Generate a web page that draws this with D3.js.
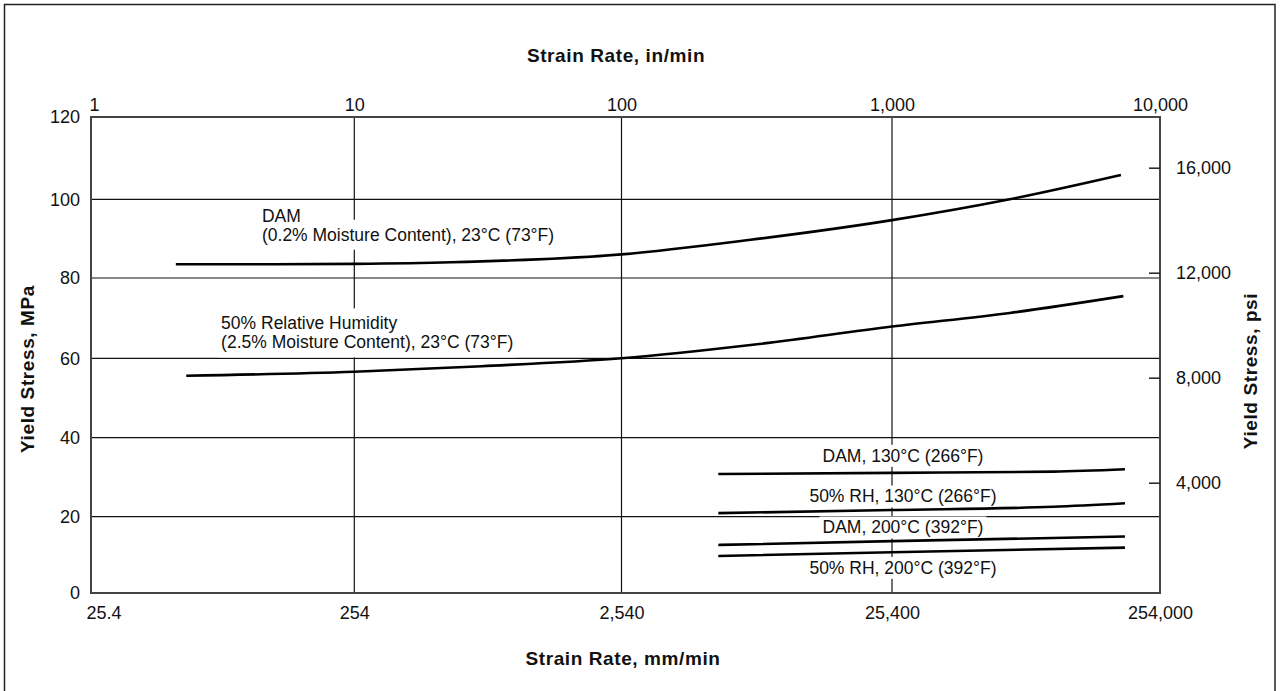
<!DOCTYPE html>
<html>
<head>
<meta charset="utf-8">
<script src="https://cdn.jsdelivr.net/npm/d3@7/dist/d3.min.js"></script>
<style>
  html, body { margin: 0; padding: 0; background: #fff; }
  svg { display: block; }
  text { font-family: "Liberation Sans", Arial, Helvetica, sans-serif; fill: #111; }
</style>
</head>
<body>
<svg id="chart" width="1282" height="691"></svg>
<script>
// ---------- data ----------
const inTicks = [1, 10, 100, 1000, 10000];
const inTickLabels = ["1", "10", "100", "1,000", "10,000"];
const mmTickLabels = ["25.4", "254", "2,540", "25,400", "254,000"];
const mpaTicks = [0, 20, 40, 60, 80, 100, 120];
const psiTicks = [4000, 8000, 12000, 16000];
const psiTickLabels = ["4,000", "8,000", "12,000", "16,000"];

// strain rate (in/min) and yield stress (MPa) per curve
const dam23X = [2.1, 5, 10, 23, 100, 300, 1000, 2750, 7150];
const dam23Y = [83.5, 83.5, 83.6, 84.0, 86.0, 89.7, 94.7, 100.0, 105.9];
const rh23X = [2.3, 10, 30, 100, 300, 1000, 2750, 7300];
const rh23Y = [55.6, 56.6, 58.0, 60.0, 63.3, 67.9, 71.3, 75.5];
const dam130X = [228, 1000, 4000, 7400];
const dam130Y = [30.8, 31.1, 31.4, 32.0];
const rh130X = [228, 1000, 4000, 7400];
const rh130Y = [20.9, 21.7, 22.5, 23.4];
const dam200X = [228, 1000, 7400];
const dam200Y = [12.6, 13.6, 14.8];
const rh200X = [228, 1000, 7400];
const rh200Y = [9.7, 10.7, 11.9];

const seriesNames = ["dam23", "rh23", "dam130", "rh130", "dam200", "rh200"];
const seriesX = [dam23X, rh23X, dam130X, rh130X, dam200X, rh200X];
const seriesY = [dam23Y, rh23Y, dam130Y, rh130Y, dam200Y, rh200Y];

// annotation texts, anchored in data units (in/min, MPa)
const annLines = [
  ["DAM", "(0.2% Moisture Content), 23°C (73°F)"],
  ["50% Relative Humidity", "(2.5% Moisture Content), 23°C (73°F)"],
  ["DAM, 130°C (266°F)"],
  ["50% RH, 130°C (266°F)"],
  ["DAM, 200°C (392°F)"],
  ["50% RH, 200°C (392°F)"]
];
const annX = [4.46, 3.12, 1099, 1099, 1099, 1099];
const annY = [94.3, 67.2, 33.9, 23.6, 15.6, 5.0];
const annAnchor = ["start", "start", "middle", "middle", "middle", "middle"];

// ---------- layout ----------
const svg = d3.select("#chart");
const L = 91, R = 1160, T = 117, B = 593;

const x = d3.scaleLog()
  .domain([1, 10, 100, 1000, 10000])
  .range([L, 354.3, 621.5, 892, R]);
const y = d3.scaleLinear()
  .domain([0, 20, 40, 60, 80, 100, 120])
  .range([B, 516.7, 437.7, 358.3, 278, 199.3, T]);
const yPsi = d3.scaleLinear().domain([0, 16000]).range([587.7, 167.7]);

// outer border
svg.append("rect")
  .attr("x", 4.5).attr("y", 4.5)
  .attr("width", 1270.5).attr("height", 720)
  .attr("fill", "none").attr("stroke", "#222").attr("stroke-width", 1.5);

// gridlines
const grid = svg.append("g").attr("stroke", "#111").attr("stroke-width", 1.2);
grid.selectAll("line.v").data(inTicks.slice(1, -1)).join("line")
  .attr("x1", d => x(d)).attr("x2", d => x(d))
  .attr("y1", T).attr("y2", B);
grid.selectAll("line.h").data(mpaTicks.slice(1, -1)).join("line")
  .attr("x1", L).attr("x2", R)
  .attr("y1", d => y(d)).attr("y2", d => y(d));

// annotations with white backgrounds (breaking gridlines)
const annG = svg.append("g");
annLines.forEach((lines, i) => {
  const g = annG.append("g");
  const bgG = g.append("g");
  const t = g.append("text")
    .attr("x", x(annX[i])).attr("y", y(annY[i]))
    .attr("text-anchor", annAnchor[i])
    .style("font-size", "17.5px");
  lines.forEach((ln, j) => {
    t.append("tspan")
      .attr("x", x(annX[i]))
      .attr("dy", j === 0 ? 0 : 19)
      .text(ln);
  });
  const padV = lines.length > 1 ? 5 : 1;
  t.selectAll("tspan").each(function() {
    const bb = this.getBBox();
    bgG.append("rect")
      .attr("x", bb.x - 3).attr("y", bb.y - padV)
      .attr("width", bb.width + 6).attr("height", bb.height + 2 * padV)
      .attr("fill", "#fff");
  });
});

// curves
const line = d3.line()
  .x(d => x(d[0])).y(d => y(d[1]))
  .curve(d3.curveMonotoneX);
svg.append("g").selectAll("path")
  .data(seriesNames.map((n, i) => seriesX[i].map((v, k) => [v, seriesY[i][k]])))
  .join("path")
  .attr("d", line)
  .attr("fill", "none")
  .attr("stroke", "#000")
  .attr("stroke-width", 2.6)
  .attr("stroke-linecap", "butt");

// frame
svg.append("rect")
  .attr("x", L).attr("y", T).attr("width", R - L).attr("height", B - T)
  .attr("fill", "none").attr("stroke", "#444").attr("stroke-width", 2);

// axes
function styleAxis(g) {
  g.select(".domain").remove();
  g.selectAll("text").style("font-size", "18px").attr("fill", "#111")
    .style("font-family", "'Liberation Sans', Arial, Helvetica, sans-serif");
}

const topAx = svg.append("g").attr("transform", `translate(0,${T})`)
  .call(d3.axisTop(x).tickValues(inTicks)
    .tickFormat((d, i) => inTickLabels[i]).tickSize(0).tickPadding(6))
  .call(styleAxis);
topAx.select(".tick text").attr("x", 3);

const bottomAx = svg.append("g").attr("transform", `translate(0,${B})`)
  .call(d3.axisBottom(x).tickValues(inTicks)
    .tickFormat((d, i) => mmTickLabels[i]).tickSize(0).tickPadding(13))
  .call(styleAxis);
bottomAx.select(".tick text").attr("text-anchor", "start").attr("x", -5);

svg.append("g").attr("transform", `translate(${L},0)`)
  .call(d3.axisLeft(y).tickValues(mpaTicks).tickFormat(d3.format("d"))
    .tickSize(0).tickPadding(11))
  .call(styleAxis);

const rightAx = svg.append("g").attr("transform", `translate(${R},0)`)
  .call(d3.axisRight(yPsi).tickValues(psiTicks)
    .tickFormat((d, i) => psiTickLabels[i]).tickSize(-11).tickPadding(16))
  .call(styleAxis);
rightAx.selectAll(".tick line").attr("stroke", "#222").attr("stroke-width", 1.5);

// axis titles
const titleStyle = sel => sel.style("font-size", "19px").style("font-weight", "bold")
  .style("letter-spacing", "0.6px").attr("text-anchor", "middle");

svg.append("text").attr("x", 616).attr("y", 62).text("Strain Rate, in/min").call(titleStyle);
svg.append("text").attr("x", 623).attr("y", 665).text("Strain Rate, mm/min").call(titleStyle);
svg.append("text").attr("transform", "translate(34,369) rotate(-90)")
  .text("Yield Stress, MPa").call(titleStyle);
svg.append("text").attr("transform", "translate(1257,371) rotate(-90)")
  .text("Yield Stress, psi").call(titleStyle);
</script>
</body>
</html>
